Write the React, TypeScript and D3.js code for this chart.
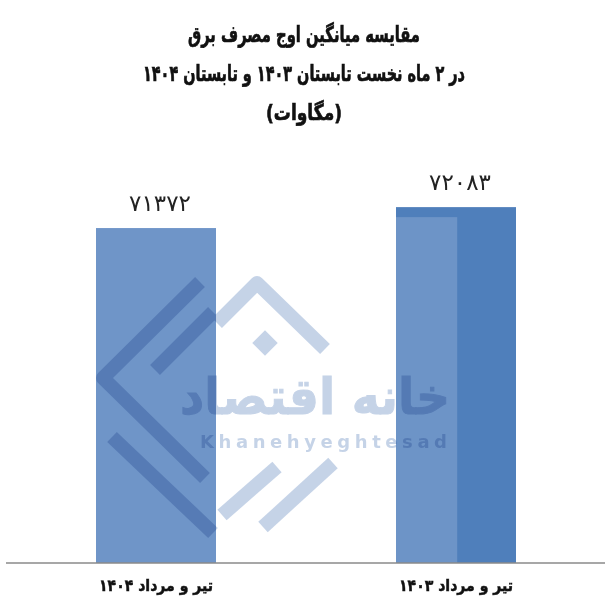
import * as d3 from "d3";
import { useRef, useEffect } from "react";

const categories = ["تیر و مرداد ۱۴۰۴", "تیر و مرداد ۱۴۰۳"];
const values = [71372, 72083];
const titleLines = [
  "مقایسه میانگین اوج مصرف برق",
  "در ۲ ماه نخست تابستان ۱۴۰۳ و تابستان ۱۴۰۴",
  "(مگاوات)",
];
const titleWidths = [232, 322, 76];

const faDigits = (n: number) =>
  String(n).replace(/\d/g, (d) => "۰۱۲۳۴۵۶۷۸۹"[+d]);

export default function App() {
  const svgRef = useRef<SVGSVGElement | null>(null);

  useEffect(() => {
    const svg = d3.select(svgRef.current);
    svg.selectAll("*").remove();

    const W = 608;
    const H = 608;
    const baseY = 563;
    const font = "'DejaVu Sans', sans-serif";

    svg.attr("viewBox", `0 0 ${W} ${H}`);
    svg.append("rect").attr("width", W).attr("height", H).attr("fill", "#fff");

    const x = d3
      .scaleBand<string>()
      .domain(categories)
      .range([6, 606])
      .paddingInner(0.6)
      .paddingOuter(0.3);

    // axis does not start at zero
    const y = d3.scaleLinear().domain([60000, 75000]).range([baseY, 121.2]);

    // title
    const title = svg
      .append("g")
      .attr("text-anchor", "middle")
      .attr("font-family", font)
      .attr("font-weight", 700)
      .attr("fill", "#111")
      .attr("stroke", "#111")
      .attr("stroke-width", 0.7);
    titleLines.forEach((t, i) => {
      title
        .append("text")
        .attr("x", W / 2)
        .attr("y", 42 + i * 39)
        .attr("font-size", 22)
        .attr("direction", "rtl")
        .attr("textLength", titleWidths[i])
        .attr("lengthAdjust", "spacingAndGlyphs")
        .text(t);
    });

    const rows = categories.map((c, i) => ({ c, v: values[i], i }));

    // bars
    const bars = svg.append("g");
    bars
      .selectAll("rect.main")
      .data(rows)
      .join("rect")
      .attr("class", "main")
      .attr("x", (d) => x(d.c)!)
      .attr("width", x.bandwidth())
      .attr("y", (d) => y(d.v))
      .attr("height", (d) => baseY - y(d.v))
      .attr("fill", (d) => (d.i === 0 ? "#6f95c8" : "#4f7fbb"));

    // lighter inner face on second bar
    bars
      .selectAll("rect.face")
      .data(rows.filter((d) => d.i === 1))
      .join("rect")
      .attr("class", "face")
      .attr("x", (d) => x(d.c)!)
      .attr("width", x.bandwidth() * 0.51)
      .attr("y", (d) => y(d.v) + 10)
      .attr("height", (d) => baseY - y(d.v) - 10)
      .attr("fill", "#6d94c7");

    // value labels
    svg
      .append("g")
      .selectAll("text")
      .data(rows)
      .join("text")
      .attr("x", (d) => x(d.c)! + x.bandwidth() / 2 + 4)
      .attr("y", (d) => y(d.v) - 17)
      .attr("text-anchor", "middle")
      .attr("font-family", font)
      .attr("font-size", 23)
      .attr("letter-spacing", 8)
      .attr("fill", "#222")
      .text((d) => faDigits(d.v));

    // watermark
    const wm = svg
      .append("g")
      .attr("fill", "#3f6db0")
      .attr("stroke", "#3f6db0")
      .attr("opacity", 0.3)
      .style("mix-blend-mode", "multiply");
    const strokes: [number, number][][] = [
      [[200, 282], [103, 378], [205, 478]],
      [[155, 370], [213, 312]],
      [[112, 437], [213, 533]],
      [[217, 323], [257, 283], [325, 349]],
      [[222, 515], [277, 467]],
      [[263, 527], [333, 463]],
    ];
    strokes.forEach((pts) => {
      wm.append("path")
        .attr("d", d3.line()(pts))
        .attr("fill", "none")
        .attr("stroke-width", 14)
        .attr("stroke-linejoin", "round");
    });
    wm.append("rect")
      .attr("x", -9)
      .attr("y", -9)
      .attr("width", 18)
      .attr("height", 18)
      .attr("stroke", "none")
      .attr("transform", "translate(265,343) rotate(45)");
    wm.append("text")
      .attr("x", 315)
      .attr("y", 414)
      .attr("text-anchor", "middle")
      .attr("font-family", font)
      .attr("font-weight", 700)
      .attr("font-size", 50)
      .attr("stroke-width", 1)
      .attr("textLength", 270)
      .attr("lengthAdjust", "spacingAndGlyphs")
      .text("خانه اقتصاد");
    wm.append("text")
      .attr("x", 200)
      .attr("y", 448)
      .attr("font-family", font)
      .attr("font-weight", 700)
      .attr("font-size", 18)
      .attr("stroke", "none")
      .attr("textLength", 247)
      .text("Khanehyeghtesad");

    // baseline
    svg
      .append("line")
      .attr("x1", 6)
      .attr("x2", 605)
      .attr("y1", baseY)
      .attr("y2", baseY)
      .attr("stroke", "#8a8a8a")
      .attr("stroke-width", 1.5);

    // category labels
    svg
      .append("g")
      .selectAll("text")
      .data(rows)
      .join("text")
      .attr("x", (d) => x(d.c)! + x.bandwidth() / 2)
      .attr("y", 591)
      .attr("text-anchor", "middle")
      .attr("font-family", font)
      .attr("font-weight", 700)
      .attr("font-size", 16)
      .attr("direction", "rtl")
      .attr("fill", "#111")
      .attr("stroke", "#111")
      .attr("stroke-width", 0.5)
      .attr("textLength", 114)
      .attr("lengthAdjust", "spacingAndGlyphs")
      .text((d) => d.c);
  }, []);

  return (
    <svg
      ref={svgRef}
      width={608}
      height={608}
      style={{ position: "absolute", left: 0, top: 0, display: "block" }}
    />
  );
}
